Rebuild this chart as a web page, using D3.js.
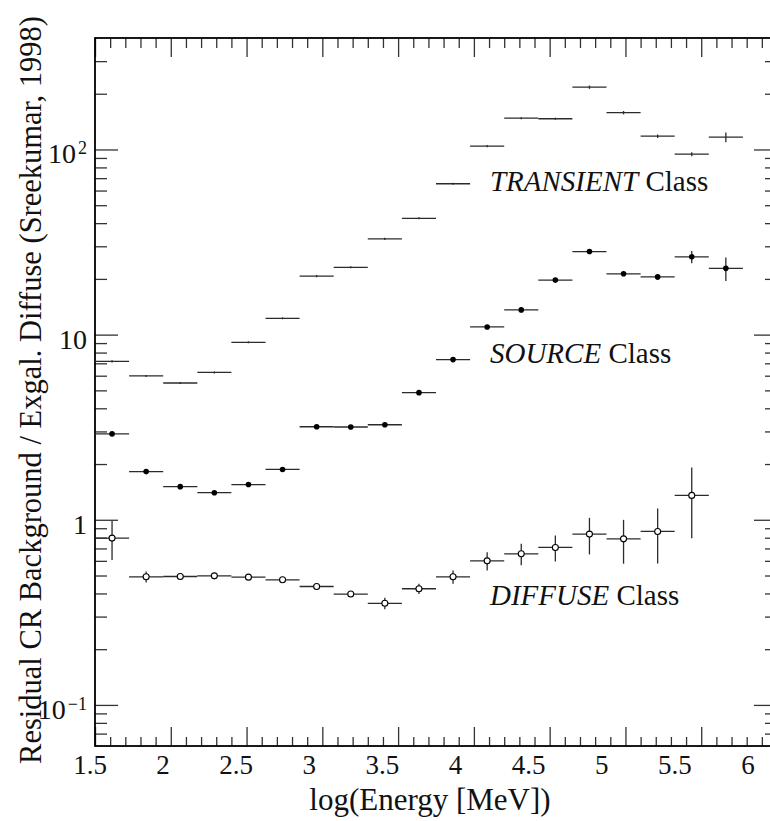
<!DOCTYPE html>
<html>
<head>
<meta charset="utf-8">
<script src="https://cdn.jsdelivr.net/npm/d3@7"></script>
<style>
  html, body { margin: 0; padding: 0; background: #fff; }
  svg { display: block; }
</style>
</head>
<body>
<svg id="chart" width="770" height="821"></svg>
<script>
// ==========================================
// DATA
// ==========================================
// log10(Energy/MeV) bin centres, each bin is 0.225 wide
const binCenters = [1.6125, 1.8375, 2.0625, 2.2875, 2.5125, 2.7375, 2.9625, 3.1875, 3.4125, 3.6375,
                    3.8625, 4.0875, 4.3125, 4.5375, 4.7625, 4.9875, 5.2125, 5.4375, 5.6625];
const binHalfWidth = 0.1125;

const transientValues = [7.17, 5.98, 5.48, 6.25, 9.09, 12.25, 20.7, 23.1, 32.9, 42.5,
                         65.3, 104.2, 147.6, 146.5, 217, 158, 118, 94.3, 116.5];
const transientErrors = [0.09, 0.07, 0.07, 0.08, 0.11, 0.15, 0.26, 0.29, 0.42, 0.55,
                         0.85, 1.4, 1.9, 1.9, 4.5, 3.3, 2.5, 2.4, 7];

const sourceValues = [2.91, 1.82, 1.51, 1.40, 1.55, 1.87, 3.18, 3.17, 3.26, 4.86,
                      7.33, 11.0, 13.6, 19.7, 28.1, 21.3, 20.5, 26.3, 22.8];
const sourceErrors = [0.05, 0.03, 0.025, 0.025, 0.03, 0.035, 0.05, 0.05, 0.05, 0.08,
                      0.12, 0.2, 0.3, 0.45, 0.7, 0.6, 0.7, 2.0, 3.3];

const diffuseValues = [0.796, 0.492, 0.494, 0.498, 0.490, 0.474, 0.436, 0.397, 0.354, 0.424,
                       0.492, 0.600, 0.655, 0.709, 0.837, 0.789, 0.865, 1.354];
const diffuseErrors = [0.19, 0.033, 0.012, 0.012, 0.012, 0.012, 0.012, 0.013, 0.025, 0.027,
                       0.04, 0.068, 0.087, 0.113, 0.187, 0.21, 0.285, 0.56];

const xMajorTicks = [1.5, 2, 2.5, 3, 3.5, 4, 4.5, 5, 5.5, 6];
const xTickLabels = ['1.5', '2', '2.5', '3', '3.5', '4', '4.5', '5', '5.5', '6'];
const yMajorTicks = [0.1, 1, 10, 100];
const yTickBase = ['10', '1', '10', '10'];
const yTickSup = ['\u22121', '', '', '2'];

const classNames = ['TRANSIENT', 'SOURCE', 'DIFFUSE'];
const classLabelLevels = [60, 7.06, 0.347];   // y value at each label baseline

const xTitle = 'log(Energy [MeV])';
const yTitle = 'Residual CR Background / Exgal. Diffuse (Sreekumar, 1998)';

// ==========================================
// SCALES
// ==========================================
const frame = { left: 95, right: 777, top: 38, bottom: 746 };

const x = d3.scaleLinear().domain([1.5, 6.0]).range([frame.left, frame.right]);
// tick labels in the figure sit on a slightly compressed grid
const xLab = d3.scaleLinear().domain([1.5, 6.0]).range([90, 748]);
const y = d3.scaleLog().domain([0.06, 400]).range([frame.bottom, frame.top]);

const svg = d3.select('#chart');
const lineCol = '#2b2b2b';
const serif = '"Liberation Serif", Times, monospace';

// ==========================================
// AXES (ticks point inward on all four sides)
// ==========================================
const xMinorTicks = d3.range(15, 61).map(d => d / 10).filter(d => !xMajorTicks.includes(d));
const yMinorTicks = y.ticks().filter(d => {
  const m = Math.round(Math.log10(d) * 1000) / 1000;
  return !Number.isInteger(m) && d > 0.061 && d < 399;
});

function styleAxis(g) {
  g.select('.domain').remove();
  g.selectAll('.tick line').attr('stroke', '#333').attr('stroke-width', 1.3);
  g.selectAll('.tick text').remove();
}

svg.append('g').attr('transform', `translate(0,${frame.bottom})`)
  .call(d3.axisBottom(x).tickValues(xMajorTicks).tickSize(-19)).call(styleAxis);
svg.append('g').attr('transform', `translate(0,${frame.bottom})`)
  .call(d3.axisBottom(x).tickValues(xMinorTicks).tickSize(-9)).call(styleAxis);
svg.append('g').attr('transform', `translate(0,${frame.top})`)
  .call(d3.axisTop(x).tickValues(xMajorTicks).tickSize(-19)).call(styleAxis);
svg.append('g').attr('transform', `translate(0,${frame.top})`)
  .call(d3.axisTop(x).tickValues(xMinorTicks).tickSize(-10)).call(styleAxis);

svg.append('g').attr('transform', `translate(${frame.left},0)`)
  .call(d3.axisLeft(y).tickValues(yMajorTicks).tickSize(-23)).call(styleAxis);
svg.append('g').attr('transform', `translate(${frame.left},0)`)
  .call(d3.axisLeft(y).tickValues(yMinorTicks).tickSize(-12)).call(styleAxis);
svg.append('g').attr('transform', `translate(${frame.right},0)`)
  .call(d3.axisRight(y).tickValues(yMajorTicks).tickSize(-23)).call(styleAxis);
svg.append('g').attr('transform', `translate(${frame.right},0)`)
  .call(d3.axisRight(y).tickValues(yMinorTicks).tickSize(-12)).call(styleAxis);

// frame
svg.append('rect')
  .attr('x', frame.left).attr('y', frame.top)
  .attr('width', frame.right - frame.left).attr('height', frame.bottom - frame.top)
  .attr('fill', 'none').attr('stroke', '#000').attr('stroke-width', 1.8);

// all text goes into one group carrying the serif face
const textLayer = svg.append('g').style('font-family', serif).attr('fill', '#111');

// x tick labels
textLayer.append('g').selectAll('text')
  .data(xMajorTicks)
  .join('text')
  .attr('x', d => xLab(d))
  .attr('y', 774)
  .attr('text-anchor', 'middle')
  .style('font-size', '27px')
  .text((d, i) => xTickLabels[i]);

// y tick labels with superscripts
const yLabels = textLayer.append('g').selectAll('text')
  .data(yMajorTicks)
  .join('text')
  .attr('x', 87)
  .attr('y', d => y(d) + 14)
  .attr('text-anchor', 'end')
  .style('font-size', '28px');
yLabels.append('tspan').text((d, i) => yTickBase[i]);
yLabels.append('tspan')
  .attr('dx', 2)
  .attr('dy', -9)
  .style('font-size', '18px')
  .text((d, i) => yTickSup[i]);

// axis titles
textLayer.append('text')
  .attr('x', 430).attr('y', 810)
  .attr('text-anchor', 'middle')
  .style('font-size', '31px')
  .text(xTitle);

textLayer.append('text')
  .attr('transform', 'translate(41,390) rotate(-90)')
  .attr('text-anchor', 'middle')
  .style('font-size', '30.5px')
  .text(yTitle);

// ==========================================
// DATA SERIES (error crosses + markers)
// ==========================================
function drawSeries(values, errors, marker) {
  const rows = values.map((v, i) => ({ c: binCenters[i], v, e: errors[i] }));
  const g = svg.append('g');

  g.selectAll('line.h').data(rows).join('line').attr('class', 'h')
    .attr('x1', d => x(d.c - binHalfWidth)).attr('x2', d => x(d.c + binHalfWidth))
    .attr('y1', d => y(d.v)).attr('y2', d => y(d.v))
    .attr('stroke', lineCol).attr('stroke-width', 1.3);

  g.selectAll('line.v').data(rows).join('line').attr('class', 'v')
    .attr('x1', d => x(d.c)).attr('x2', d => x(d.c))
    .attr('y1', d => y(d.v + d.e)).attr('y2', d => y(Math.max(d.v - d.e, 0.061)))
    .attr('stroke', lineCol).attr('stroke-width', 1.3);

  if (marker === 'filled') {
    g.selectAll('circle').data(rows).join('circle')
      .attr('cx', d => x(d.c)).attr('cy', d => y(d.v)).attr('r', 2.8)
      .attr('fill', '#000');
  } else if (marker === 'open') {
    g.selectAll('circle').data(rows).join('circle')
      .attr('cx', d => x(d.c)).attr('cy', d => y(d.v)).attr('r', 3)
      .attr('fill', '#fff').attr('stroke', '#000').attr('stroke-width', 1.1);
  }
}

drawSeries(transientValues, transientErrors, 'none');
drawSeries(sourceValues, sourceErrors, 'filled');
drawSeries(diffuseValues, diffuseErrors, 'open');

// ==========================================
// CLASS LABELS
// ==========================================
const lbl = textLayer.append('g').selectAll('text')
  .data(classNames)
  .join('text')
  .attr('x', x(4.106))
  .attr('y', (d, i) => y(classLabelLevels[i]))
  .style('font-size', '29px');
lbl.append('tspan').style('font-style', 'italic').text(d => d);
lbl.append('tspan').text(' Class');
</script>
</body>
</html>
